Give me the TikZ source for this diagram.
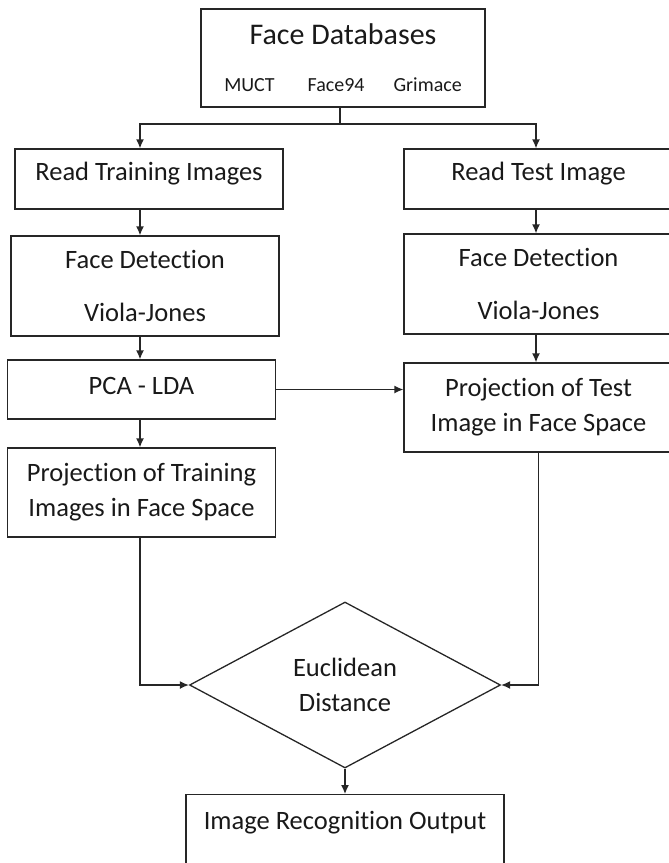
\documentclass[tikz,border=0pt]{standalone}
\usepackage{fontspec}
\setmainfont{Carlito}[Ligatures = NoCommon]
\usetikzlibrary{shapes.geometric,arrows.meta}

\begin{document}
\begin{tikzpicture}
    [
        x = 1pt, y = -1pt,
        line width = 1.3pt, color = black!85,
        box/.style = {draw, rectangle, minimum width = 268pt, inner sep = 0pt, align = center},
        decision/.style = {draw, diamond, minimum width = 311pt, minimum height = 166pt, inner sep = 0pt, align = center},
        arrow/.style = {-{Latex[length = 9pt, width = 8pt]}},
        every node/.style = {font = \fontsize{26.5}{35}\selectfont, text = black!90}
    ]

        \useasboundingbox (0,0) rectangle (669,863);
        \clip (0,0) rectangle (669,863);

        % databases
        \node[box, minimum width = 284pt, minimum height = 98pt, font = \fontsize{20}{47}\selectfont] (db) at (343,58)
            {{\fontsize{30}{36}\selectfont Face Databases}\\
             MUCT\hspace{33pt}Face94\hspace{29pt}Grimace};

        % training side
        \node[box, text height = 31.5pt, text depth = 28.5pt] (train) at (149,179) {Read Training Images};
        \node[box, minimum height = 100pt] (fdl) at (145,286) {Face Detection\\[18pt]Viola-Jones};
        \node[box, text height = 34.5pt, text depth = 24.5pt] (pca) at (141.5,389.5) {PCA - LDA};
        \node[box, minimum height = 89pt] (projl) at (141.5,492.5) {Projection of Training\\Images in Face Space};

        % test side
        \node[box, minimum width = 269pt, text height = 31.5pt, text depth = 28.5pt] (test) at (538.5,179) {Read Test Image};
        \node[box, minimum width = 269pt, minimum height = 100pt] (fdr) at (538.5,284) {Face Detection\\[18pt]Viola-Jones};
        \node[box, minimum width = 269pt, minimum height = 89pt] (projr) at (538.5,407.5) {Projection of Test\\Image in Face Space};

        % matching
        \node[decision] (dia) at (345,685) {Euclidean\\Distance};
        \node[box, minimum width = 318pt, anchor = north, text height = 34.5pt, text depth = 80pt] (out) at (345,794) {Image Recognition Output};

        \coordinate (split) at (340,124);
        \coordinate (lcol) at (140,0);
        \coordinate (rcol) at (536,0);

        \draw (db.south -| split) -- (split);
        \draw[arrow] (split) -| (lcol |- train.north);
        \draw[arrow] (split) -| (rcol |- test.north);

        \draw[arrow] (lcol |- train.south) -- (lcol |- fdl.north);
        \draw[arrow] (lcol |- fdl.south) -- (lcol |- pca.north);
        \draw[arrow] (lcol |- pca.south) -- (lcol |- projl.north);

        \draw[arrow] (rcol |- test.south) -- (rcol |- fdr.north);
        \draw[arrow] (rcol |- fdr.south) -- (rcol |- projr.north);

        \draw[arrow] (pca.east) -- (pca.east -| projr.west);

        \draw[arrow] (lcol |- projl.south) |- (dia.west);
        \draw[arrow] (projr.south) |- (dia.east);
        \draw[arrow] (dia.south) -- (out.north);
    \end{tikzpicture}
\end{document}
